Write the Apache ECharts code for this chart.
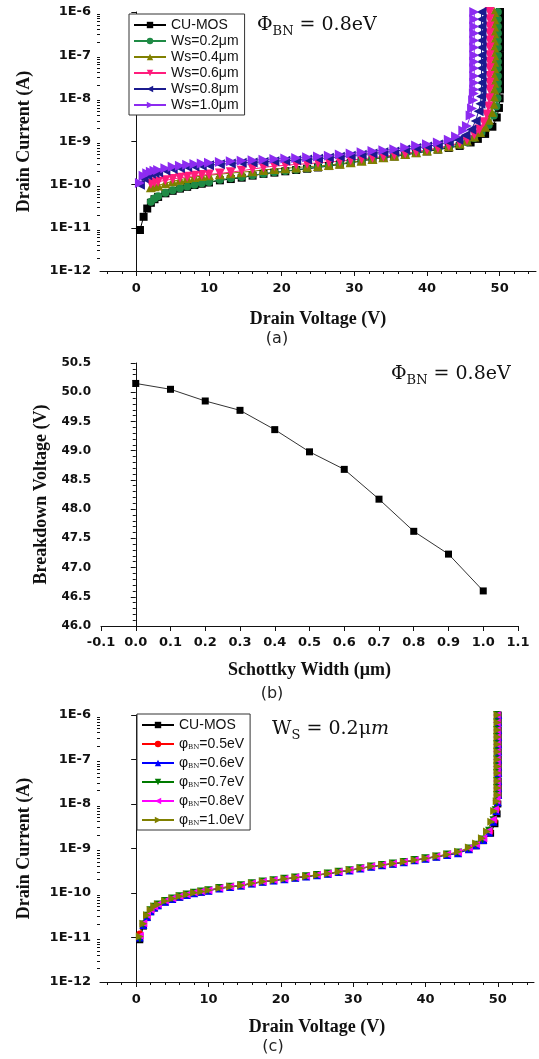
<!DOCTYPE html>
<html>
<head>
<meta charset="utf-8">
<script src="https://cdn.jsdelivr.net/npm/echarts@6/dist/echarts.min.js"></script>
<style>
  html, body { margin: 0; padding: 0; background: #fff; }
  #chart { width: 539px; height: 1059px; }
</style>
</head>
<body>
<div id="chart"></div>
<script>
// drain voltage grid (V) shared by the I-V curves below the knee
const vGrid = [0.5, 1, 1.5, 2, 2.5, 3, 4, 5, 6, 7, 8, 9, 10, 11.5, 13, 14.5, 16, 17.5, 19, 20.5,
  22, 23.5, 25, 26.5, 28, 29.5, 31, 32.5, 34, 35.5, 37, 38.5, 40, 41.5, 43];

// (a) drain current (A), Schottky width sweep
const iCuMos = [8.9e-12, 1.8e-11, 2.8e-11, 3.8e-11, 4.6e-11, 5.2e-11, 6.3e-11, 7.2e-11, 8.1e-11, 8.9e-11,
  9.8e-11, 1.05e-10, 1.12e-10, 1.26e-10, 1.35e-10, 1.45e-10, 1.62e-10, 1.78e-10, 1.9e-10, 2.04e-10,
  2.19e-10, 2.34e-10, 2.5e-10, 2.7e-10, 2.95e-10, 3.2e-10, 3.55e-10, 3.9e-10, 4.2e-10, 4.5e-10,
  4.9e-10, 5.4e-10, 5.9e-10, 6.5e-10, 7.1e-10];
const iWs02 = [null, null, null, 4.0e-11, 4.8e-11, 5.4e-11, 6.5e-11, 7.4e-11, 8.3e-11, 9.1e-11,
  1.0e-10, 1.08e-10, 1.15e-10, 1.3e-10, 1.4e-10, 1.5e-10, 1.66e-10, 1.8e-10, 1.93e-10, 2.07e-10,
  2.22e-10, 2.38e-10, 2.55e-10, 2.75e-10, 3.0e-10, 3.25e-10, 3.6e-10, 3.95e-10, 4.3e-10, 4.6e-10,
  5.0e-10, 5.5e-10, 6.0e-10, 6.7e-10, 7.4e-10];
const iWs04 = [null, null, null, 8.7e-11, 9.2e-11, 9.6e-11, 1.08e-10, 1.2e-10, 1.3e-10, 1.42e-10,
  1.5e-10, 1.58e-10, 1.65e-10, 1.75e-10, 1.85e-10, 1.95e-10, 2.05e-10, 2.2e-10, 2.3e-10, 2.4e-10,
  2.5e-10, 2.6e-10, 2.7e-10, 2.85e-10, 3.05e-10, 3.3e-10, 3.6e-10, 3.95e-10, 4.3e-10, 4.65e-10,
  5.1e-10, 5.6e-10, 6.2e-10, 6.9e-10, 7.8e-10];
const iWs06 = [null, null, null, 1.05e-10, 1.12e-10, 1.17e-10, 1.26e-10, 1.35e-10, 1.44e-10, 1.52e-10,
  1.6e-10, 1.67e-10, 1.73e-10, 1.82e-10, 1.95e-10, 2.1e-10, 2.3e-10, 2.5e-10, 2.7e-10, 2.8e-10,
  2.95e-10, 3.05e-10, 3.2e-10, 3.35e-10, 3.5e-10, 3.7e-10, 3.95e-10, 4.2e-10, 4.5e-10, 4.85e-10,
  5.3e-10, 5.8e-10, 6.4e-10, 7.1e-10, 8.0e-10];
const iWs08 = [1.0e-10, 1.4e-10, 1.65e-10, 1.78e-10, 1.86e-10, 1.95e-10, 2.12e-10, 2.3e-10, 2.43e-10, 2.56e-10,
  2.65e-10, 2.74e-10, 2.83e-10, 2.96e-10, 3.1e-10, 3.2e-10, 3.28e-10, 3.37e-10, 3.5e-10, 3.6e-10,
  3.7e-10, 3.83e-10, 4.0e-10, 4.18e-10, 4.42e-10, 4.68e-10, 4.95e-10, 5.3e-10, 5.6e-10, 5.9e-10,
  6.5e-10, 7.1e-10, 7.7e-10, 8.5e-10, 9.7e-10];
const iWs10 = [1.1e-10, 1.6e-10, 1.85e-10, 2.0e-10, 2.1e-10, 2.2e-10, 2.4e-10, 2.6e-10, 2.75e-10, 2.9e-10,
  3.0e-10, 3.1e-10, 3.2e-10, 3.35e-10, 3.5e-10, 3.6e-10, 3.7e-10, 3.8e-10, 3.95e-10, 4.05e-10,
  4.15e-10, 4.3e-10, 4.5e-10, 4.7e-10, 5.0e-10, 5.3e-10, 5.6e-10, 6.0e-10, 6.3e-10, 6.6e-10,
  7.3e-10, 8.1e-10, 8.6e-10, 9.5e-10, 1.1e-9];

// knee points [V, A] before the vertical breakdown column
const kneeCuMos = [[44.5, 7.9e-10], [46, 9.5e-10], [47, 1.15e-9], [48, 1.5e-9], [49, 2.2e-9], [49.6, 3.6e-9], [49.9, 6e-9], [50.0, 1e-8]];
const kneeWs02 = [[44.5, 8.3e-10], [45.5, 9.6e-10], [46.5, 1.2e-9], [47.5, 1.6e-9], [48.5, 2.4e-9], [49.2, 4e-9], [49.55, 6.5e-9], [49.7, 1e-8]];
const kneeWs04 = [[44.5, 9e-10], [45.5, 1.05e-9], [46.5, 1.3e-9], [47.3, 1.65e-9], [48, 2.2e-9], [48.5, 3.2e-9], [48.9, 4.8e-9], [49.15, 7.5e-9], [49.2, 1.1e-8]];
const kneeWs06 = [[44.5, 9.3e-10], [45.5, 1.1e-9], [46.5, 1.45e-9], [47.2, 1.9e-9], [47.8, 2.8e-9], [48.2, 4.2e-9], [48.45, 6.5e-9], [48.55, 1e-8]];
const kneeWs08 = [[44.3, 1.1e-9], [45.3, 1.4e-9], [46.1, 1.9e-9], [46.7, 3e-9], [47.1, 5e-9], [47.35, 7.5e-9], [47.45, 1.1e-8]];
const kneeWs10 = [[44, 1.3e-9], [45, 1.8e-9], [45.5, 2.3e-9], [46, 4e-9], [46.2, 5.8e-9], [46.35, 9e-9], [46.45, 1.3e-8]];

// breakdown voltage seen in (a) and current steps up the vertical column
const vbdA = [50.05, 49.75, 49.25, 48.6, 47.5, 46.5];
const colI = [1.6e-8, 2.3e-8, 3.3e-8, 5e-8, 7e-8, 1e-7, 1.5e-7, 2.2e-7, 3.2e-7, 4.6e-7, 6.8e-7, 1e-6];
const namesA = ['CU-MOS', 'Ws=0.2μm', 'Ws=0.4μm', 'Ws=0.6μm', 'Ws=0.8μm', 'Ws=1.0μm'];

// (b) breakdown voltage vs Schottky width
const widthB = [0, 0.1, 0.2, 0.3, 0.4, 0.5, 0.6, 0.7, 0.8, 0.9, 1.0];
const breakdownV = [50.15, 50.05, 49.85, 49.69, 49.36, 48.98, 48.68, 48.17, 47.62, 47.23, 46.60];

// (c) barrier height sweep at Ws = 0.2um
const iPhi05 = [1.2e-11, 2.0e-11, 3.0e-11, 4.0e-11, 4.8e-11, 5.4e-11, 6.5e-11, 7.4e-11, 8.3e-11, 9.1e-11,
  1.0e-10, 1.07e-10, 1.14e-10, 1.28e-10, 1.38e-10, 1.48e-10, 1.64e-10, 1.8e-10, 1.92e-10, 2.06e-10,
  2.2e-10, 2.36e-10, 2.52e-10, 2.72e-10, 2.97e-10, 3.22e-10, 3.57e-10, 3.92e-10, 4.25e-10, 4.55e-10,
  4.95e-10, 5.45e-10, 5.95e-10, 6.6e-10, 7.2e-10];
const iPhi06 = [1.0e-11, 1.9e-11, 2.9e-11, 3.9e-11, 4.7e-11, 5.3e-11, 6.4e-11, 7.3e-11, 8.2e-11, 9.0e-11,
  9.9e-11, 1.06e-10, 1.13e-10, 1.27e-10, 1.37e-10, 1.47e-10, 1.63e-10, 1.79e-10, 1.91e-10, 2.05e-10,
  2.2e-10, 2.35e-10, 2.51e-10, 2.71e-10, 2.96e-10, 3.21e-10, 3.56e-10, 3.91e-10, 4.22e-10, 4.52e-10,
  4.92e-10, 5.42e-10, 5.92e-10, 6.55e-10, 7.15e-10];
const iPhi07 = [9.5e-12, 1.95e-11, 3.1e-11, 4.1e-11, 4.9e-11, 5.5e-11, 6.6e-11, 7.5e-11, 8.4e-11, 9.2e-11,
  1.01e-10, 1.08e-10, 1.15e-10, 1.29e-10, 1.39e-10, 1.49e-10, 1.65e-10, 1.81e-10, 1.94e-10, 2.08e-10,
  2.23e-10, 2.38e-10, 2.54e-10, 2.74e-10, 3.0e-10, 3.25e-10, 3.6e-10, 3.95e-10, 4.28e-10, 4.58e-10,
  5.0e-10, 5.5e-10, 6.0e-10, 6.65e-10, 7.3e-10];
const iPhi08 = [1.1e-11, 2.1e-11, 3.2e-11, 4.2e-11, 5.0e-11, 5.6e-11, 6.7e-11, 7.6e-11, 8.5e-11, 9.3e-11,
  1.02e-10, 1.09e-10, 1.16e-10, 1.3e-10, 1.4e-10, 1.5e-10, 1.66e-10, 1.82e-10, 1.95e-10, 2.1e-10,
  2.25e-10, 2.4e-10, 2.56e-10, 2.76e-10, 3.02e-10, 3.28e-10, 3.63e-10, 3.98e-10, 4.3e-10, 4.62e-10,
  5.05e-10, 5.55e-10, 6.05e-10, 6.7e-10, 7.4e-10];
const iPhi10 = [1.05e-11, 2.05e-11, 3.15e-11, 4.15e-11, 4.95e-11, 5.55e-11, 6.65e-11, 7.55e-11, 8.45e-11, 9.25e-11,
  1.015e-10, 1.085e-10, 1.155e-10, 1.295e-10, 1.395e-10, 1.495e-10, 1.655e-10, 1.815e-10, 1.945e-10, 2.09e-10,
  2.24e-10, 2.39e-10, 2.55e-10, 2.75e-10, 3.01e-10, 3.27e-10, 3.62e-10, 3.97e-10, 4.29e-10, 4.6e-10,
  5.02e-10, 5.52e-10, 6.02e-10, 6.68e-10, 7.35e-10];
const kneePhi05 = [[44.5, 8.0e-10], [46, 9.8e-10], [47, 1.2e-9], [48, 1.6e-9], [48.9, 2.4e-9], [49.5, 4.2e-9], [49.8, 7.5e-9], [49.9, 1.1e-8]];
const kneePhi06 = [[44.5, 7.8e-10], [46, 9.6e-10], [47, 1.18e-9], [48, 1.55e-9], [48.8, 2.3e-9], [49.4, 4e-9], [49.8, 7e-9], [50.0, 1.1e-8]];
const kneePhi07 = [[44.5, 8.1e-10], [46, 1.0e-9], [47, 1.22e-9], [47.9, 1.6e-9], [48.8, 2.5e-9], [49.4, 4.3e-9], [49.7, 7.2e-9], [49.85, 1.1e-8]];
const kneePhi08 = [[44.5, 8.2e-10], [46, 1.02e-9], [47, 1.25e-9], [48, 1.7e-9], [48.7, 2.5e-9], [49.3, 4.5e-9], [49.6, 7.5e-9], [49.8, 1.2e-8]];
const kneePhi10 = [[44.5, 8.4e-10], [46, 1.05e-9], [47, 1.3e-9], [47.8, 1.7e-9], [48.5, 2.4e-9], [49.1, 4.0e-9], [49.5, 7e-9], [49.85, 1.15e-8]];
const vbdC = [50.05, 49.95, 50.05, 49.9, 49.85, 49.95];
const namesC = ['CU-MOS', 'φBN=0.5eV', 'φBN=0.6eV', 'φBN=0.7eV', 'φBN=0.8eV', 'φBN=1.0eV'];

// tick labels
const decades = [-12, -11, -10, -9, -8, -7, -6];
const voltTicks = [0, 10, 20, 30, 40, 50];

const minorLog = [];
for (let n = -12; n < -6; n++) {
  for (let k = 2; k <= 9; k++) minorLog.push(n + Math.log10(k));
}
const minorVolt = [];
for (let v = -4; v <= 54; v += 2) minorVolt.push(v);

function curve(iArr, knee, vbd) {
  const pts = [];
  vGrid.forEach((v, k) => {
    if (iArr[k] != null) pts.push([v, iArr[k]]);
  });
  knee.forEach(p => pts.push(p));
  colI.forEach(i => pts.push([vbd, i]));
  return pts;
}

const black = '#111';
const tickFont = {fontFamily: 'DejaVu Sans', fontWeight: 'bold', fontSize: 13, color: black};
const nameFont = {fontFamily: 'Liberation Serif', fontWeight: 'bold', fontSize: 18, color: black};
const lineStyle = {lineStyle: {color: black, width: 1}};

function logAxes(grid) {
  return [
    {
      type: 'log', logBase: 10, gridIndex: grid, min: 1e-12, max: 1e-6, position: 'left',
      axisLine: lineStyle, axisTick: {show: false}, axisLabel: {show: false}, splitLine: {show: false},
      name: 'Drain Current (A)', nameLocation: 'middle', nameGap: 67, nameTextStyle: nameFont
    },
    {
      type: 'value', gridIndex: grid, min: -12, max: -6, interval: 1, position: 'left',
      axisLine: {show: false}, splitLine: {show: false},
      axisTick: {show: true, length: 5, lineStyle: {color: black}},
      axisLabel: {margin: 9, ...tickFont, formatter: v => '1E' + v}
    },
    {
      type: 'value', gridIndex: grid, min: -12, max: -6, position: 'left',
      axisLine: {show: false}, splitLine: {show: false}, axisLabel: {show: false},
      axisTick: {show: true, length: 3, customValues: minorLog, lineStyle: {color: black}}
    }
  ];
}

function voltAxes(grid, gap) {
  return [
    {
      type: 'value', gridIndex: grid, min: -5, max: 55, position: 'bottom',
      axisLine: lineStyle, splitLine: {show: false},
      axisTick: {length: 5, customValues: voltTicks, lineStyle: {color: black}},
      axisLabel: {margin: 11, customValues: voltTicks, ...tickFont, fontSize: 13},
      name: 'Drain Voltage (V)', nameLocation: 'middle', nameGap: gap, nameTextStyle: nameFont
    },
    {
      type: 'value', gridIndex: grid, min: -5, max: 55, position: 'bottom',
      axisLine: {show: false}, splitLine: {show: false}, axisLabel: {show: false},
      axisTick: {length: 3, customValues: minorVolt, lineStyle: {color: black}}
    }
  ];
}

const symA = [
  {symbol: 'rect', size: 8, rot: 0, color: '#000000'},
  {symbol: 'circle', size: 8, rot: 0, color: '#1f8a45'},
  {symbol: 'triangle', size: 10, rot: 0, color: '#808000'},
  {symbol: 'triangle', size: 10, rot: 180, color: '#ff1c7c'},
  {symbol: 'triangle', size: 10, rot: 90, color: '#1b1b8f'},
  {symbol: 'triangle', size: 10, rot: -90, color: '#8c2bf0'}
];
const symC = [
  {symbol: 'rect', size: 7, rot: 0, color: '#000000'},
  {symbol: 'circle', size: 7, rot: 0, color: '#ff0000'},
  {symbol: 'triangle', size: 8, rot: 0, color: '#0000ff'},
  {symbol: 'triangle', size: 8, rot: 180, color: '#007a00'},
  {symbol: 'triangle', size: 8, rot: 90, color: '#ff00ff'},
  {symbol: 'triangle', size: 8, rot: -90, color: '#808000'}
];

const currentsA = [iCuMos, iWs02, iWs04, iWs06, iWs08, iWs10];
const kneesA = [kneeCuMos, kneeWs02, kneeWs04, kneeWs06, kneeWs08, kneeWs10];
const currentsC = [iCuMos, iPhi05, iPhi06, iPhi07, iPhi08, iPhi10];
const kneesC = [kneeCuMos, kneePhi05, kneePhi06, kneePhi07, kneePhi08, kneePhi10];

const series = [];
namesA.forEach((name, k) => {
  const s = symA[k];
  series.push({
    name, type: 'line', xAxisIndex: 0, yAxisIndex: 0,
    data: curve(currentsA[k], kneesA[k], vbdA[k]),
    symbol: s.symbol, symbolSize: s.size, symbolRotate: s.rot,
    itemStyle: {color: s.color}, lineStyle: {color: s.color, width: 1}
  });
});
series.push({
  name: 'Breakdown', type: 'line', xAxisIndex: 2, yAxisIndex: 3,
  data: widthB.map((w, k) => [w, breakdownV[k]]),
  symbol: 'rect', symbolSize: 7,
  itemStyle: {color: '#000'}, lineStyle: {color: '#333', width: 1}
});
namesC.forEach((name, k) => {
  const s = symC[k];
  series.push({
    name, type: 'line', xAxisIndex: 3, yAxisIndex: 4,
    data: curve(currentsC[k], kneesC[k], vbdC[k]),
    symbol: s.symbol, symbolSize: s.size, symbolRotate: s.rot,
    itemStyle: {color: s.color}, lineStyle: {color: s.color, width: 1}
  });
});

const annRich = {
  p: {fontFamily: 'DejaVu Serif', fontSize: 19, lineHeight: 23, verticalAlign: 'top', fill: black},
  s: {fontFamily: 'DejaVu Serif', fontSize: 13, lineHeight: 13, padding: [9, 0, 0, 0], verticalAlign: 'top', fill: black},
  i: {fontFamily: 'DejaVu Serif', fontStyle: 'italic', fontSize: 19, lineHeight: 23, verticalAlign: 'top', fill: black}
};

function caption(text, x, y) {
  return {
    type: 'text', x, y,
    style: {text, align: 'center', verticalAlign: 'middle', textAlign: 'center', textVerticalAlign: 'middle',
      font: '16px "DejaVu Sans"', fill: '#222'}
  };
}

const chart = echarts.init(document.getElementById('chart'));
chart.setOption({
  animation: false,
  backgroundColor: '#fff',
  grid: [
    {left: 100, top: 12, width: 436, height: 259, outerBoundsMode: 'none'},
    {left: 101, top: 363, width: 417, height: 263, outerBoundsMode: 'none'},
    {left: 100, top: 715, width: 434, height: 267, outerBoundsMode: 'none'}
  ],
  xAxis: [
    ...voltAxes(0, 39),
    {
      type: 'value', gridIndex: 1, min: -0.1, max: 1.1, interval: 0.1, position: 'bottom',
      axisLine: lineStyle, splitLine: {show: false},
      axisTick: {length: 5, lineStyle: {color: black}},
      axisLabel: {margin: 10, ...tickFont, formatter: v => v.toFixed(1)},
      name: 'Schottky Width (μm)', nameLocation: 'middle', nameGap: 35, nameTextStyle: nameFont
    },
    ...voltAxes(2, 36)
  ],
  yAxis: [
    ...logAxes(0),
    {
      type: 'value', gridIndex: 1, min: 46, max: 50.5, interval: 0.5, position: 'left',
      axisLine: lineStyle, splitLine: {show: false},
      axisTick: {length: 5, lineStyle: {color: black}},
      minorTick: {show: true, splitNumber: 5, length: 3, lineStyle: {color: black}},
      axisLabel: {margin: 10, ...tickFont, fontSize: 12, formatter: v => v.toFixed(1)},
      name: 'Breakdown Voltage (V)', nameLocation: 'middle', nameGap: 49, nameTextStyle: nameFont
    },
    ...logAxes(2)
  ],
  legend: [
    {
      orient: 'vertical', left: 129, top: 14, data: namesA, selectedMode: false,
      itemWidth: 32, itemHeight: 8, itemGap: 2, padding: [4, 6, 3, 4],
      borderColor: '#333', borderWidth: 1, backgroundColor: '#fff',
      textStyle: {fontFamily: 'Liberation Sans', fontSize: 14, lineHeight: 14, color: black}
    },
    {
      orient: 'vertical', left: 137, top: 714, data: namesC, selectedMode: false,
      itemWidth: 32, itemHeight: 8, itemGap: 5, padding: [4, 6, 3, 4],
      borderColor: '#333', borderWidth: 1, backgroundColor: '#fff',
      formatter: n => n.startsWith('φ') ? '{t|φ}{s|BN}{t|' + n.slice(3) + '}' : '{t|' + n + '}',
      textStyle: {
        rich: {
          t: {fontFamily: 'Liberation Sans', fontSize: 14, lineHeight: 14, color: black},
          s: {fontFamily: 'DejaVu Serif', fontSize: 7, lineHeight: 14, padding: [7, 0, 0, 0], color: black}
        }
      }
    }
  ],
  graphic: [
    {type: 'text', left: 257, top: 16, style: {text: '{p|Φ}{s|BN}{p| = 0.8eV}', rich: annRich}},
    {type: 'text', left: 391, top: 365, style: {text: '{p|Φ}{s|BN}{p| = 0.8eV}', rich: annRich}},
    {type: 'text', left: 272, top: 720, style: {text: '{p|W}{s|S}{p| = 0.2μ}{i|m}', rich: annRich}},
    caption('(a)', 277, 339),
    caption('(b)', 272, 694),
    caption('(c)', 273, 1047)
  ],
  series
});
</script>
</body>
</html>
